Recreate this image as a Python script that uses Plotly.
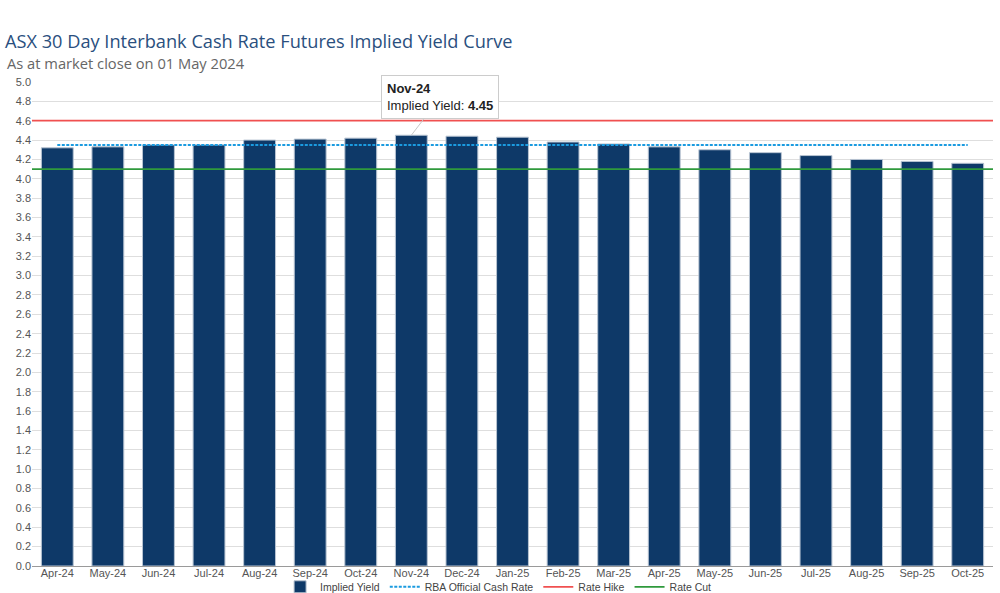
import plotly.graph_objects as go

months = ["Apr-24", "May-24", "Jun-24", "Jul-24", "Aug-24", "Sep-24", "Oct-24",
          "Nov-24", "Dec-24", "Jan-25", "Feb-25", "Mar-25", "Apr-25", "May-25",
          "Jun-25", "Jul-25", "Aug-25", "Sep-25", "Oct-25"]
implied_yield = [4.32, 4.33, 4.35, 4.35, 4.40, 4.41, 4.42,
                 4.45, 4.44, 4.43, 4.38, 4.36, 4.33, 4.30,
                 4.27, 4.24, 4.20, 4.18, 4.16]
rba_cash_rate = 4.35
rate_hike = 4.60
rate_cut = 4.10
y_ticks = [round(i * 0.2, 1) for i in range(26)]

highlight = "Nov-24"
highlight_val = implied_yield[months.index(highlight)]

fig = go.Figure()
fig.add_trace(go.Bar(
    x=months, y=implied_yield, name="Implied Yield",
    marker=dict(color="#0e3968", line=dict(color="#b8c4d2", width=1)),
))
fig.add_trace(go.Scatter(
    x=months, y=[rba_cash_rate] * len(months), mode="lines",
    name="RBA Official Cash Rate",
    line=dict(color="#1b9be0", width=2, dash="3px,1.5px"),
))

fig.add_shape(type="line", xref="paper", yref="y", x0=0, x1=1,
              y0=rate_hike, y1=rate_hike, layer="above",
              line=dict(color="#f05050", width=1.8),
              showlegend=True, name="Rate Hike")
fig.add_shape(type="line", xref="paper", yref="y", x0=0, x1=1,
              y0=rate_cut, y1=rate_cut, layer="above",
              line=dict(color="#2f9a3c", width=1.8),
              showlegend=True, name="Rate Cut")

fig.add_annotation(
    x=highlight, y=highlight_val, xref="x", yref="y",
    text=f"<b>{highlight}</b><br>Implied Yield: <b>{highlight_val:.2f}</b>",
    showarrow=True, arrowhead=0, arrowcolor="#c8c8c8", arrowwidth=1,
    ax=29, ay=-38, align="left",
    bgcolor="white", bordercolor="#cccccc", borderwidth=1, borderpad=5,
    font=dict(family="Liberation Sans, Arial", size=13, color="#222"),
)

fig.add_annotation(
    text="As at market close on 01 May 2024",
    xref="paper", yref="paper", x=-27 / 961, y=(566 - 63) / 484,
    xanchor="left", yanchor="middle", showarrow=False,
    font=dict(family="Open Sans", size=14.7, color="#666666"),
)

fig.update_layout(
    width=1000, height=593,
    margin=dict(l=32, r=7, t=82, b=27, autoexpand=False),
    paper_bgcolor="white", plot_bgcolor="white",
    title=dict(
        text="ASX 30 Day Interbank Cash Rate Futures Implied Yield Curve",
        xref="container", yref="container", x=5 / 1000, y=1 - 42 / 593,
        xanchor="left", yanchor="middle",
        font=dict(family="Open Sans", size=18.2, color="#2a4f7e"),
    ),
    bargap=0.37,
    showlegend=True,
    legend=dict(
        orientation="h", x=0.485, xanchor="center", y=-0.013, yanchor="top",
        font=dict(family="Liberation Sans, Arial", size=10.5, color="#444"),
        itemwidth=30, tracegroupgap=0, bgcolor="rgba(0,0,0,0)",
    ),
    xaxis=dict(
        type="category", showgrid=False, showline=True, linecolor="#9a9a9a",
        linewidth=1, ticks="", ticklen=0, ticklabelstandoff=-3,
        tickfont=dict(family="Liberation Sans, Arial", size=11, color="#555"),
    ),
    yaxis=dict(
        range=[0, 5.0], tickvals=y_ticks, tickformat=".1f",
        showgrid=True, gridcolor="#dedede", gridwidth=1, zeroline=False,
        showline=False, ticks="",
        tickfont=dict(family="Liberation Sans, Arial", size=11, color="#555"),
    ),
)

fig.write_html("out.html")
